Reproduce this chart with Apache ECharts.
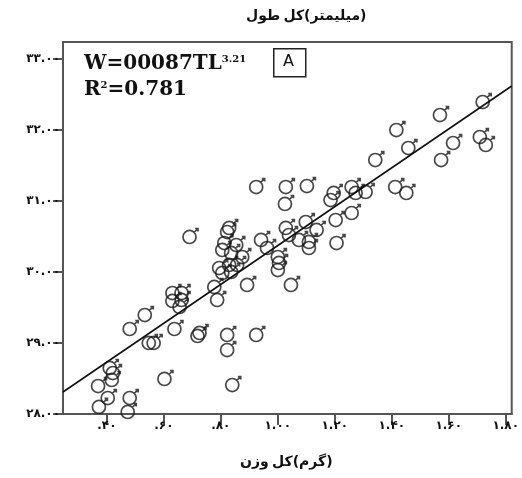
<!DOCTYPE html>
<html>
<head>
<meta charset="utf-8">
<script src="https://cdn.jsdelivr.net/npm/echarts@6/dist/echarts.min.js"></script>
<style>
  html, body { margin: 0; padding: 0; background: #fff; }
  #chart { width: 522px; height: 478px; }
</style>
</head>
<body>
<div id="chart"></div>
<script>
// tick values and their persian labels
var xTicks = [0.4, 0.6, 0.8, 1.0, 1.2, 1.4, 1.6, 1.8];
var xLabels = ['.۴۰', '.۶۰', '.۸۰', '۱.۰۰', '۱.۲۰', '۱.۴۰', '۱.۶۰', '۱.۸۰'];
var yTicks = [28, 29, 30, 31, 32, 33];
var yLabels = ['۲۸.۰۰', '۲۹.۰۰', '۳۰.۰۰', '۳۱.۰۰', '۳۲.۰۰', '۳۳.۰۰'];

// weight (x) and length (y)
var weight = [0.369, 0.372, 0.403, 0.417, 0.421, 0.410, 0.480, 0.473, 0.602, 0.480,
  0.533, 0.547, 0.564, 0.637, 0.630, 0.662, 0.630, 0.662, 0.655, 0.718,
  0.777, 0.787, 0.690, 0.725, 0.822, 0.822, 0.924, 0.840, 0.892, 1.046,
  0.794, 0.829, 0.857, 0.805, 0.836, 0.812, 0.854, 0.805, 0.836, 0.875,
  0.829, 0.822, 0.941, 0.962, 1.000, 1.004, 1.000, 1.039, 1.074, 1.109,
  1.136, 1.109, 1.028, 1.098, 1.206, 1.203, 1.259, 1.185, 1.196, 1.259,
  1.273, 1.308, 0.924, 1.028, 1.102, 1.025, 1.342, 1.412, 1.451, 1.416,
  1.458, 1.569, 1.573, 1.615, 1.709, 1.730, 1.719];
var length = [28.394, 28.099, 28.225, 28.479, 28.577, 28.648, 28.225, 28.028, 28.493, 29.197,
  29.394, 29.000, 29.000, 29.197, 29.704, 29.704, 29.592, 29.606, 29.507, 29.099,
  29.789, 29.606, 30.493, 29.141, 29.113, 28.901, 29.113, 28.408, 29.817, 29.817,
  30.056, 30.099, 30.099, 29.986, 30.000, 30.408, 30.380, 30.310, 30.268, 30.211,
  30.620, 30.563, 30.451, 30.338, 30.211, 30.127, 30.028, 30.521, 30.451, 30.423,
  30.592, 30.338, 30.620, 30.704, 30.408, 30.732, 30.831, 31.014, 31.113, 31.197,
  31.113, 31.127, 31.197, 31.197, 31.211, 30.958, 31.577, 31.197, 31.113, 32.000,
  31.746, 32.211, 31.577, 31.817, 31.901, 31.789, 32.394];

// fitted line end points
var fitX = [0.246, 1.821];
var fitY = [28.31, 32.62];

var points = weight.map(function (w, i) { return [w, length[i]]; });
var fitLine = fitX.map(function (x, i) { return [x, fitY[i]]; });

function pick(ticks, labels, v) {
  for (var i = 0; i < ticks.length; i++) {
    if (Math.abs(ticks[i] - v) < 1e-6) return labels[i];
  }
  return '';
}

// male sign: circle with a short arrow to the upper right
var maleSymbol = 'path://M1,10a5,5 0 1,0 10,0a5,5 0 1,0 -10,0M9.5,6.5L12.5,3.5M10.3,3.5L12.5,3.5L12.5,5.7';

var chart = echarts.init(document.getElementById('chart'), null, { renderer: 'canvas' });

var axisFont = { color: '#111', fontSize: 12, fontWeight: 'bold', fontFamily: 'DejaVu Sans' };
var fa = { fill: '#111', font: 'bold 14px "DejaVu Sans"' };

var option = {
  backgroundColor: '#fff',
  animation: false,
  grid: {
    left: 63, right: 6, top: 42, bottom: 64,
    show: true, borderColor: '#555', borderWidth: 2
  },
  xAxis: {
    type: 'value',
    min: 0.246,
    max: 1.821,
    axisLine: { show: true, lineStyle: { color: '#555', width: 2 } },
    axisTick: { show: true, length: 11, customValues: xTicks, lineStyle: { color: '#555', width: 2 } },
    axisLabel: Object.assign({
      customValues: xTicks,
      margin: 6,
      formatter: function (v) { return pick(xTicks, xLabels, v); }
    }, axisFont),
    splitLine: { show: false }
  },
  yAxis: {
    type: 'value',
    min: 28,
    max: 33.24,
    axisLine: { show: true, lineStyle: { color: '#555', width: 2 } },
    axisTick: { show: true, length: 10, customValues: yTicks, lineStyle: { color: '#555', width: 2 } },
    axisLabel: Object.assign({
      customValues: yTicks,
      margin: 3,
      formatter: function (v) { return pick(yTicks, yLabels, v); }
    }, axisFont),
    splitLine: { show: false }
  },
  series: [
    {
      type: 'scatter',
      data: points,
      symbol: maleSymbol,
      symbolSize: 15,
      symbolKeepAspect: true,
      symbolOffset: [1, -1],
      itemStyle: { color: 'rgba(0,0,0,0)', borderColor: '#1a1a1a', borderWidth: 1.7 },
      silent: true
    },
    {
      type: 'line',
      data: fitLine,
      symbol: 'none',
      lineStyle: { color: '#111', width: 1.6 },
      silent: true,
      z: 3
    }
  ],
  graphic: [
    {
      // words kept in the left-to-right order of the source figure
      type: 'text', left: 246, top: 9,
      style: {
        text: '{a|طول} {a|کل}{a|(}{a|میلیمتر}{a|)}',
        rich: { a: fa }
      }
    },
    {
      type: 'text', left: 240, top: 455,
      style: {
        text: '{a|وزن} {a|کل}{a|(}{a|گرم}{a|)}',
        rich: { a: fa }
      }
    },
    {
      type: 'text', left: 84, top: 54,
      style: {
        text: '{m|W=00087TL}{s|3.21}',
        rich: {
          m: { fill: '#111', font: 'bold 20px "DejaVu Serif"' },
          s: { fill: '#111', font: 'bold 10px "DejaVu Serif"', verticalAlign: 'top', padding: [0, 0, 10, 0] }
        }
      }
    },
    {
      type: 'text', left: 84, top: 80,
      style: {
        text: '{m|R}{s|2}{m|=0.781}',
        rich: {
          m: { fill: '#111', font: 'bold 20px "DejaVu Serif"' },
          s: { fill: '#111', font: 'bold 10px "DejaVu Serif"', padding: [0, 0, 10, 0] }
        }
      }
    },
    {
      type: 'rect', left: 273, top: 48,
      shape: { width: 32, height: 28 },
      style: { fill: '#fff', stroke: '#222', lineWidth: 1.5 }
    },
    {
      type: 'text', left: 283, top: 54,
      style: { text: 'A', fill: '#111', font: '16px "DejaVu Sans"' }
    }
  ]
};

chart.setOption(option);
</script>
</body>
</html>
